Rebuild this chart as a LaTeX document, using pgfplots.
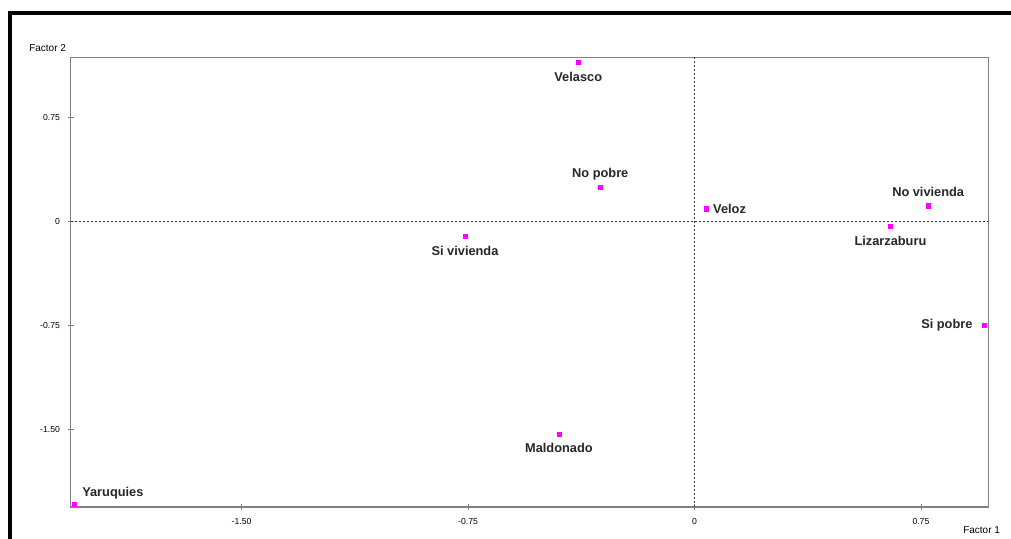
\documentclass[border=0pt]{standalone}
\usepackage{pgfplots}
\pgfplotsset{compat=1.18}
\usepackage{fontspec}
\setmainfont{Liberation Sans}
\definecolor{mag}{HTML}{FF00FF}
\definecolor{axgray}{HTML}{808080}
\begin{document}
\begin{tikzpicture}[x=0.75pt,y=0.75pt]
\path[use as bounding box] (0,0) rectangle (1011,539);
\draw[line width=3pt] (10,-5) -- (10,526) -- (1016,526);
\begin{axis}[
  at={(53.0pt,24pt)}, anchor=south west,
  scale only axis, width=688.2pt, height=337.3pt,
  xmin=-2.066, xmax=0.973, ymin=-2.063, ymax=1.186,
  axis line style={draw=axgray, line width=1.1pt},
  xtick={-1.5,-0.75,0,0.75}, xticklabels={-1.50,-0.75,0,0.75},
  ytick={-1.5,-0.75,0,0.75}, yticklabels={-1.50,-0.75,0,0.75},
  xtick pos=bottom, ytick pos=left,
  tick align=center, major tick length=4.5pt,
  tick style={draw=axgray, line width=0.6pt},
  xticklabel style={font=\fontsize{6.5}{7}\selectfont, anchor=north, inner sep=0pt, yshift=-6pt},
  yticklabel style={font=\fontsize{6.5}{7}\selectfont, anchor=east, inner sep=0pt, xshift=-5.6pt},
  clip=false,
  pt/.style={only marks, mark=square*, mark size=1.6pt, color=mag, mark options={draw=mag, fill=mag},
     nodes near coords, point meta=explicit symbolic},
  nodes near coords style={font=\fontsize{9.6}{11}\selectfont\bfseries, inner sep=0pt, text=black!85},
]
\addplot[sharp plot, no marks, black!80, line width=0.6pt, dash pattern=on 1.5pt off 1.5pt] coordinates {(-2.066,0) (0.973,0)};
\addplot[sharp plot, no marks, black!80, line width=0.6pt, dash pattern=on 1.5pt off 1.5pt] coordinates {(0,-2.063) (0,1.186)};
% labels below
\addplot[pt, nodes near coords style={anchor=north, yshift=-7pt}] table[meta=label] {
x y label
-0.385 1.150 Velasco
-0.760 -0.107 {Si vivienda}
0.649 -0.035 Lizarzaburu
-0.449 -1.535 Maldonado
};
% labels above
\addplot[pt, nodes near coords style={anchor=base, yshift=7pt}] table[meta=label] {
x y label
-0.312 0.247 {No pobre}
0.774 0.114 {No vivienda}
};
% label right
\addplot[pt, nodes near coords style={anchor=west, xshift=5pt}] table[meta=label] {
x y label
0.039 0.092 Veloz
};
% label left
\addplot[pt, nodes near coords style={anchor=east, xshift=-8.7pt}] table[meta=label] {
x y label
0.960 -0.748 {Si pobre}
};
% label above right
\addplot[pt, nodes near coords style={anchor=base west, xshift=6pt, yshift=5.6pt}] table[meta=label] {
x y label
-2.055 -2.043 Yaruquies
};
\end{axis}
\node[anchor=west, inner sep=0pt, font=\fontsize{7.5}{9}\selectfont] at (29,491.3) {Factor 2};
\node[anchor=west, inner sep=0pt, font=\fontsize{7.5}{9}\selectfont] at (963,9) {Factor 1};
\end{tikzpicture}
\end{document}
